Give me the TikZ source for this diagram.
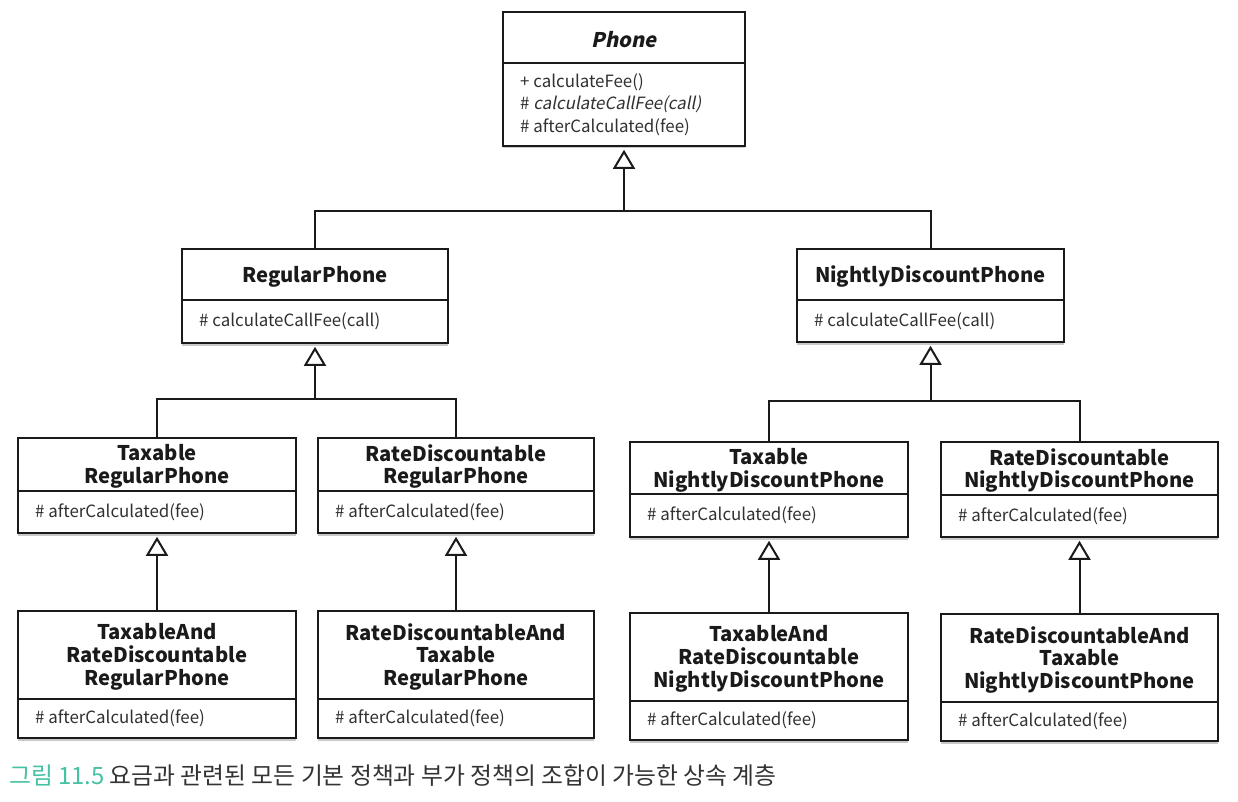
\documentclass[tikz,border=0pt]{standalone}
\usepackage{fontspec}
\setmainfont{Noto Sans CJK KR}[AutoFakeSlant=0.2]
\newfontfamily\titleslant{Noto Sans CJK KR}[FakeSlant=0.2]
\newfontfamily\memslant{Noto Sans CJK KR}[FakeSlant=0.2]
\usetikzlibrary{arrows.meta,shadows}
\definecolor{capteal}{HTML}{45C1A4}
\definecolor{captext}{HTML}{333333}
\definecolor{ink}{HTML}{1A1A1A}
\tikzset{
  classbox/.style={draw=ink, line width=1.6pt, fill=white, rectangle, inner sep=0pt,
    drop shadow={shadow xshift=0pt, shadow yshift=-2.5pt, opacity=0.35, fill=black!60}},
  divider/.style={draw=ink, line width=1.4pt},
  titletext/.style={align=center, inner sep=0pt, text=ink, font=\fontsize{20.2}{22.8}\selectfont\bfseries},
  membertext/.style={align=left, anchor=west, inner sep=0pt, text=ink!90, font=\fontsize{16.9}{22.6}\selectfont},
  link/.style={draw=ink, line width=2pt},
  gen/.style={draw=ink, line width=2pt, -{Triangle[width=22pt,length=19pt,fill=white]}, shorten >=3pt},
}
\newcommand\umlclass[8]{%
  \node[classbox, minimum width={#4-#2}, minimum height={#5-#3}] (#1) at ({(#2+#4)/2},{(#3+#5)/2}) {};
  \draw[divider] (#2,#6) -- (#4,#6);
  \node[titletext] (#1-t) at ({(#2+#4)/2},{(#3+#6)/2+2}) {#7};
  \node[membertext] (#1-m) at ({#2+17},{(#6+#5)/2}) {#8};
}
\begin{document}
\begin{tikzpicture}[x=1pt,y=-1pt]
\path[use as bounding box, fill=white] (0,0) rectangle (1238,802);

\umlclass{Phone}{503}{12}{745}{146}{63}{\titleslant\bfseries Phone}{+ calculateFee()\\\# {\memslant calculateCallFee(call)}\\\# afterCalculated(fee)}
\umlclass{Regular}{182}{249}{448}{343}{300}{RegularPhone}{\# calculateCallFee(call)}
\umlclass{Nightly}{797}{249}{1064}{342}{300}{NightlyDiscountPhone}{\# calculateCallFee(call)}

\umlclass{TR}{18}{438}{296}{533}{491}{Taxable\\RegularPhone}{\# afterCalculated(fee)}
\umlclass{RR}{318}{438}{594}{533}{491}{RateDiscountable\\RegularPhone}{\# afterCalculated(fee)}
\umlclass{TN}{630}{442}{908}{537}{494}{Taxable\\NightlyDiscountPhone}{\# afterCalculated(fee)}
\umlclass{RN}{941}{442}{1218}{537}{495}{RateDiscountable\\NightlyDiscountPhone}{\# afterCalculated(fee)}

\umlclass{TRR}{18}{611}{296}{738}{699}{TaxableAnd\\RateDiscountable\\RegularPhone}{\# afterCalculated(fee)}
\umlclass{RTR}{318}{611}{594}{738}{699}{RateDiscountableAnd\\Taxable\\RegularPhone}{\# afterCalculated(fee)}
\umlclass{TRN}{630}{613}{908}{740}{701}{TaxableAnd\\RateDiscountable\\NightlyDiscountPhone}{\# afterCalculated(fee)}
\umlclass{RTN}{941}{614}{1218}{741}{702}{RateDiscountableAnd\\Taxable\\NightlyDiscountPhone}{\# afterCalculated(fee)}

% junctions
\path (Phone.south) ++(0,64) coordinate (jPhone);
\path (Regular.south) ++(0,55) coordinate (jRegular);
\path (Nightly.south) ++(0,58) coordinate (jNightly);

\draw[gen] (jPhone) -- (Phone.south);
\draw[link] (Regular.north) |- (jPhone);
\draw[link] (Nightly.north) |- (jPhone);

\draw[gen] (jRegular) -- (Regular.south);
\draw[link] (TR.north) |- (jRegular);
\draw[link] (RR.north) |- (jRegular);

\draw[gen] (jNightly) -- (Nightly.south);
\draw[link] (TN.north) |- (jNightly);
\draw[link] (RN.north) |- (jNightly);

\draw[gen] (TRR.north) -- (TR.south);
\draw[gen] (RTR.north) -- (RR.south);
\draw[gen] (TRN.north) -- (TN.south);
\draw[gen] (RTN.north) -- (RN.south);

\node[anchor=west, inner sep=0pt, font=\fontsize{23.8}{26}\selectfont, text=captext] (caption) at (9,775)
  {\textcolor{capteal}{그림 11.5} 요금과 관련된 모든 기본 정책과 부가 정책의 조합이 가능한 상속 계층};
\end{tikzpicture}
\end{document}
